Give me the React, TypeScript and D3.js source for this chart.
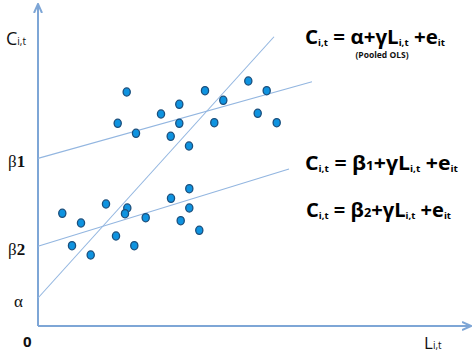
import React from 'react';
import * as d3 from 'd3';

// chart units: x = pixels right of the y axis, y = pixels above the x axis
const upperDots: [number, number][] = [
  [88.7, 234], [167, 235.3], [210.3, 245], [228.7, 235.3], [141.3, 221.7],
  [185.3, 225.7], [123, 212], [79.7, 202.7], [141.3, 202.7], [176.3, 203.3],
  [219.7, 212.7], [238.7, 203.3], [98, 192.7], [132.7, 189.7], [151, 180],
];
const lowerDots: [number, number][] = [
  [24.3, 112.7], [43, 103], [68, 122], [89.3, 118], [87, 112.3],
  [107.7, 108.3], [133, 127.7], [151.3, 137.3], [151.3, 118], [142.7, 105.3],
  [161.3, 95.7], [34, 80.3], [52.7, 71], [78, 90], [96.3, 80.3],
];

// [intercept, slope, xEnd]
const fitLines: [string, number, number, number][] = [
  ['alpha', 28, 1.107, 236],
  ['beta1', 167.6, 0.28, 274],
  ['beta2', 79.7, 0.308, 251],
];

const interceptLabels: [string, string, number][] = [
  ['β', '1', 167.6],
  ['β', '2', 79.7],
  ['α', '', 28],
];

const W = 472, H = 353;
const x = d3.scaleLinear().domain([0, 432]).range([38, 470]);
const y = d3.scaleLinear().domain([0, 321]).range([326, 5]);

const axisColor = '#7ea6d6';
const lineColor = '#93b6e0';
const eqFont = '"Open Sans", "Noto Sans", sans-serif';

function Sub({ children, dy = 3, size = 9 }: { children: string; dy?: number; size?: number }) {
  return <tspan fontSize={size} dy={dy}>{children}</tspan>;
}

function Equation({ xx, yy, mid, midSmall, width }: { xx: number; yy: number; mid: string; midSmall: string; width: number }) {
  return (
    <text x={xx} y={yy} fontFamily={eqFont} fontWeight="bold" fontSize={19} fill="#000"
      textLength={width} lengthAdjust="spacingAndGlyphs">
      C<Sub dy={2}>i,t</Sub>
      <tspan dy={-2}> = </tspan>
      {mid}
      {midSmall ? <tspan fontSize={12}>{midSmall}</tspan> : null}
      +γL<Sub dy={2}>i,t</Sub>
      <tspan dy={-2}> +e</tspan>
      <Sub dy={2}>it</Sub>
    </text>
  );
}

export default function App() {
  const line = d3.line<[number, number]>().x(d => x(d[0])).y(d => y(d[1]));
  return (
    <svg width={W} height={H} style={{ position: 'fixed', left: 0, top: 0, background: '#fff' }}>
      <defs>
        <marker id="arr" viewBox="0 0 10 10" refX="8" refY="5" markerWidth="5" markerHeight="5" orient="auto">
          <path d="M0,1 L9,5 L0,9" fill="none" stroke={axisColor} strokeWidth={2} />
        </marker>
      </defs>

      {/* axes */}
      <line x1={x(0)} y1={y(0)} x2={x(0)} y2={y(321)} stroke={axisColor} strokeWidth={2} markerEnd="url(#arr)" />
      <line x1={x(0)} y1={y(0)} x2={x(432)} y2={y(0)} stroke={axisColor} strokeWidth={2} markerEnd="url(#arr)" />

      {/* fitted lines */}
      {fitLines.map(([k, a, b, xe]) => (
        <path key={k} d={line([[0, a], [xe, a + b * xe]]) || ''} stroke={lineColor} strokeWidth={1.1} fill="none" />
      ))}

      {/* observations */}
      {[...upperDots, ...lowerDots].map((d, i) => (
        <ellipse key={i} cx={x(d[0])} cy={y(d[1])} rx={3.6} ry={4.1} fill="#0e93e0" stroke="#1c4f7c" strokeWidth={1.3} />
      ))}

      {/* axis labels */}
      <text x={6} y={45} fontFamily={eqFont} fontSize={18} fill="#111">
        C<Sub size={10} dy={0}>i,t</Sub>
      </text>
      <text x={424} y={349} fontFamily={eqFont} fontSize={17} fill="#111">
        L<Sub size={10} dy={0}>i,t</Sub>
      </text>
      <text x={23} y={347} fontFamily={eqFont} fontWeight="bold" fontSize={15} fill="#111">0</text>

      {interceptLabels.map(([g, n, v]) => (
        <text key={g + n} x={n ? 8 : 14} y={y(v) + 9} fontFamily='"Liberation Serif", serif' fontSize={17} fill="#111">
          {g}<tspan fontWeight="bold">{n}</tspan>
        </text>
      ))}

      {/* equations */}
      <Equation xx={305} yy={44} mid="α" midSmall="" width={140} />
      <text x={382} y={58} textAnchor="middle" fontFamily={eqFont} fontWeight="bold" fontSize={8.5} fill="#111">(Pooled OLS)</text>
      <Equation xx={305} yy={170} mid="β" midSmall="1" width={153} />
      <Equation xx={306} yy={217} mid="β" midSmall="2" width={145} />
    </svg>
  );
}
